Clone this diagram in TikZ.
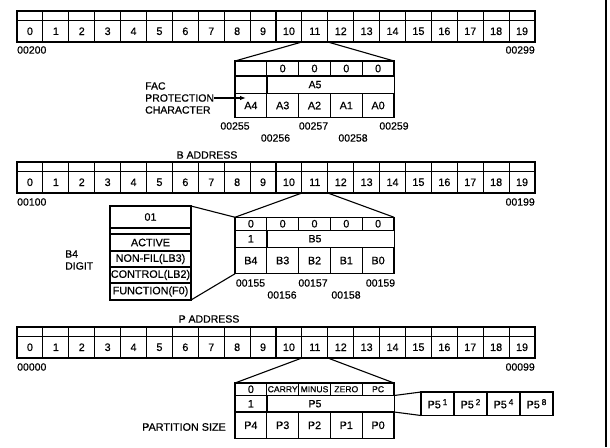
\documentclass[tikz,border=0pt]{standalone}
\usepackage{fontspec}
\setmainfont{Liberation Sans}[FakeBold=0.6,AutoFakeBold=0.6]
\usetikzlibrary{arrows.meta}
\tikzset{
  lw/.style={line width=1.1pt},
  base/.style={draw, lw, inner sep=0pt, outer sep=0pt, font=\fontsize{10.8}{12}\bfseries},
  topcell/.style={base, minimum width=25.9pt, minimum height=9.5pt},
  cell/.style={base, minimum width=25.9pt, minimum height=21.5pt},
  ecell/.style={base, minimum width=31.8pt},
  wide/.style={base, minimum width=127.2pt},
  lbl/.style={inner sep=0pt, font=\fontsize{10.5}{12}\bfseries},
  small/.style={font=\fontsize{8.6}{10}\bfseries},
  dcell/.style={base, minimum width=81pt},
  pcell/.style={base, minimum width=33pt, minimum height=23.5pt},
  conn/.style={lw}
}
\begin{document}
\begin{tikzpicture}[x=1pt,y=-1pt]
\useasboundingbox (0,0) rectangle (610,447);
% main memory rows
\foreach \n/\t in {A/11,B/162,P/327} {
  \foreach \i in {0,...,19} {
    \node[topcell] (\n t\i) at ({17+25.9*\i+12.95},{\t+4.75}) {};
    \node[cell] (\n\i) at ({17+25.9*\i+12.95},{\t+20.25}) {\i};
  }
}
\node[lbl, anchor=west] (lA0) at (17,50) {00200};
\node[lbl, anchor=east] (lA1) at (535,50) {00299};
\node[lbl, anchor=west] (lB0) at (17,202) {00100};
\node[lbl, anchor=east] (lB1) at (535,202) {00199};
\node[lbl, anchor=west] (lP0) at (17,367) {00000};
\node[lbl, anchor=east] (lP1) at (535,367) {00099};
\node[lbl] (btitle) at (207,155) {B ADDRESS};
\node[lbl] (ptitle) at (209,319) {P ADDRESS};

% ---------- box A ----------
\foreach \i/\s in {0/{},1/0,2/0,3/0,4/0}
  \node[ecell, minimum height=15pt] (xa1\i) at ({235+31.8*\i+15.9},68.5) {\s};
\node[ecell, minimum height=17.3pt] (xa20) at (250.9,84.65) {};
\node[wide, minimum height=17.3pt] (xa2s) at (330.6,84.65) {};
\node[lbl] (xa5) at (315,84.65) {A5};
\foreach \i/\s in {0/A4,1/A3,2/A2,3/A1,4/A0}
  \node[ecell, minimum height=24.4pt] (xa3\i) at ({235+31.8*\i+15.9},105.5) {\s};
\draw[conn] (A11.south west) -- (xa10.north west);
\draw[conn] (A11.south east) -- (xa14.north east);
\node[lbl, align=left, anchor=west] (fac) at (145,98)
  {\fontsize{10.5}{11.5}\bfseries FAC\\PROTECTION\\CHARACTER};
\coordinate (factip) at (246,98);
\draw[conn, -{Latex[length=6pt,width=4.5pt]}] (fac.east) -- (factip);
\node[lbl] (a255) at (235,126) {00255};
\node[lbl] (a256) at (275.5,138) {00256};
\node[lbl] (a257) at (313.5,126) {00257};
\node[lbl] (a258) at (353,138) {00258};
\node[lbl] (a259) at (394,126) {00259};

% ---------- box B ----------
\foreach \i in {0,...,4}
  \node[ecell, minimum height=13pt] (xb1\i) at ({235+31.8*\i+15.9},223.75) {0};
\node[ecell, minimum height=17pt] (xb20) at (250.9,238.75) {1};
\node[wide, minimum height=17pt] (xb2s) at (330.6,238.75) {};
\node[lbl] (xb5) at (315,238.75) {B5};
\foreach \i/\s in {0/B4,1/B3,2/B2,3/B1,4/B0}
  \node[ecell, minimum height=26.5pt] (xb3\i) at ({235+31.8*\i+15.9},260.5) {\s};
\draw[conn] (B11.south west) -- (xb10.north west);
\draw[conn] (B11.south east) -- (xb14.north east);
\node[lbl] (b155) at (250.5,283) {00155};
\node[lbl] (b156) at (282,295) {00156};
\node[lbl] (b157) at (313,283) {00157};
\node[lbl] (b158) at (346,295) {00158};
\node[lbl] (b159) at (380.5,283) {00159};

% B4 digit box
\node[dcell, minimum height=22pt] (d1) at (150.5,217) {01};
\node[dcell, minimum height=6pt] (d2) at (150.5,231) {};
\node[dcell, minimum height=17pt] (d3) at (150.5,242.5) {ACTIVE};
\node[dcell, minimum height=16pt] (d4) at (150.5,259) {NON-FIL(LB3)};
\node[dcell, minimum height=16pt] (d5) at (150.5,275) {CONTROL(LB2)};
\node[dcell, minimum height=17pt] (d6) at (150.5,291.5) {FUNCTION(F0)};
\draw[conn] (d1.north east) -- (xb10.north west);
\draw[conn] (d6.south east) -- (xb30.south west);
\node[lbl, align=left, anchor=west] (b4lbl) at (65,260)
  {\fontsize{10.5}{12}\bfseries B4\\DIGIT};

% ---------- box P ----------
\node[ecell, minimum height=12.5pt] (xp10) at (250.9,389.25) {0};
\node[ecell, minimum height=12.5pt, small] (xp11) at (282.7,389.25) {CARRY};
\node[ecell, minimum height=12.5pt, small] (xp12) at (314.5,389.25) {MINUS};
\node[ecell, minimum height=12.5pt, small] (xp13) at (346.3,389.25) {ZERO};
\node[ecell, minimum height=12.5pt, small] (xp14) at (378.1,389.25) {PC};
\node[ecell, minimum height=16.5pt] (xp20) at (250.9,403.75) {1};
\node[wide, minimum height=16.5pt] (xp2s) at (330.6,403.75) {};
\node[lbl] (xp5) at (315,403.75) {P5};
\foreach \i/\s in {0/P4,1/P3,2/P2,3/P1,4/P0}
  \node[ecell, minimum height=26.5pt] (xp3\i) at ({235+31.8*\i+15.9},425.25) {\s};
\draw[conn] (P11.south west) -- (xp10.north west);
\draw[conn] (P11.south east) -- (xp14.north east);
\node[lbl] (psize) at (184,427) {\fontsize{10.8}{12}\bfseries PARTITION SIZE};

% P5 expansion
\foreach \i/\s in {0/1,1/2,2/4,3/8}
  \node[pcell] (q\i) at ({421+33*\i+16.5},403.75) {P5\,\raisebox{3.2pt}{\fontsize{8.5}{10}\bfseries\s}};
\draw[conn] (xp2s.north east) -- (q0.north west);
\draw[conn] (xp2s.south east) -- (q0.south west);

% right border line
\draw[lw] (606,0) -- (606,447);
\end{tikzpicture}
\end{document}
